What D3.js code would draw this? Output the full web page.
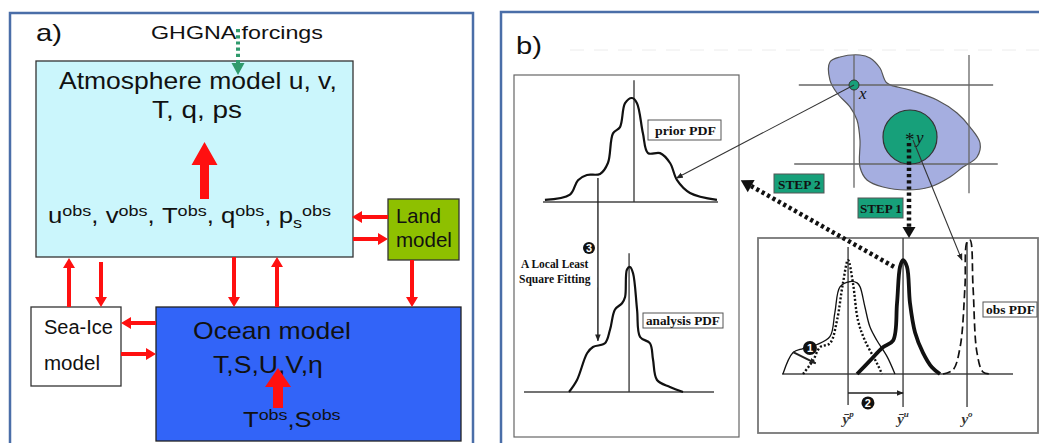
<!DOCTYPE html>
<html>
<head>
<meta charset="utf-8">
<script src="https://cdn.jsdelivr.net/npm/d3@7"></script>
<style>
  html, body { margin: 0; padding: 0; background: #fff; }
  svg { display: block; }
</style>
</head>
<body>
<svg id="fig" width="1039" height="443"></svg>
<script>
// ---------- content ----------
const panelLabels = ["a)", "b)"];
const forcingLabel = "GHGNA forcings";
const atmosphereTitle = ["Atmosphere model u, v,", "T, q, ps"];
// [base, subscript, superscript]
const atmosphereObs = [["u", "", "obs"], ["v", "", "obs"], ["T", "", "obs"], ["q", "", "obs"], ["p", "s", "obs"]];
const landLabel = ["Land", "model"];
const seaIceLabel = ["Sea-Ice", "model"];
const oceanTitle = ["Ocean model", "T,S,U,V,η"];
const oceanObs = [["T", "", "obs"], ["S", "", "obs"]];

// panel b: PDFs as [position 0..100, relative density]
const priorPDF = [[1.1,0.02],[15.4,0.07],[20,0.21],[25.1,0.26],[32.6,0.27],[37.1,0.375],[40,0.66],[44,0.72],[46.9,0.95],[50.9,1.0],[53.7,0.95],[57.1,0.66],[60,0.47],[66.9,0.47],[72.6,0.375],[76.6,0.21],[84,0.087],[99.4,0.02]];
const analysisPDF = [[23.7,0],[27.9,0.096],[33.2,0.31],[36.3,0.36],[42.6,0.39],[45.3,0.5],[47.9,0.66],[51.6,0.71],[53.2,0.76],[54.2,0.98],[55.8,1.0],[57.4,0.95],[59.5,0.66],[61.1,0.44],[66.3,0.39],[67.9,0.26],[70,0.096],[76.8,0.04],[83.7,0]];
const priorObsSpace = [[0.4,0],[4.8,0.16],[9.1,0.19],[15.2,0.22],[20.8,0.28],[22.9,0.46],[25.1,0.65],[29.4,0.69],[32.5,0.68],[33.8,0.65],[35.9,0.5],[38.1,0.35],[41.1,0.25],[45.5,0.13],[48.9,0]];
const priorFitted = [[9.1,0],[13.4,0.10],[16.5,0.2],[20.8,0.23],[23.8,0.4],[26.4,0.68],[28.6,0.85],[30.7,0.68],[32.9,0.4],[35.9,0.25],[41.1,0.08],[43.3,0]];
const updatedPDF = [[32.5,0],[38.1,0.1],[43.7,0.2],[48.1,0.25],[49.8,0.53],[51.1,0.8],[52.4,0.85],[54.1,0.8],[55.4,0.53],[57.6,0.31],[61,0.16],[64.9,0.05],[68.4,0]];
const obsPDF = [[69.7,0],[74,0.03],[77.1,0.2],[79.2,0.65],[80.1,0.985],[81.4,1.0],[82.7,0.65],[84.4,0.16],[87,0.015],[90,0]];
const priorMean = 52, analysisMean = 55.3;
const obsMeans = [28.6, 52.4, 80.1];
const obsMeanLabels = [["ȳ", "p"], ["ȳ", "u"], ["y", "o"]];
const pdfLabels = ["prior PDF", "analysis PDF", "obs PDF"];
const stepLabels = ["STEP 1", "STEP 2"];
const fitLabel = ["A Local Least", "Square Fitting"];
const badges = ["1", "2", "3"];

// model domain outline in grid units (grid cell = [0,1] x [0,1])
const domainOutline = [[-0.209,-0.291],[-0.122,-0.354],[0.052,-0.38],[0.139,-0.342],[0.226,-0.215],[0.287,-0.025],[0.487,0.063],[0.722,0.19],[0.896,0.354],[1.009,0.532],[1.096,0.734],[1.07,0.911],[0.948,1.038],[0.835,1.165],[0.661,1.291],[0.461,1.329],[0.252,1.291],[0.113,1.203],[0.052,1.038],[0.052,0.696],[0.026,0.443],[-0.035,0.278],[-0.148,0.101],[-0.209,-0.063]];
const gridPoint = [0, 0];
const obsPoint = [0.487, 0.658];

// ---------- drawing ----------
const svg = d3.select("#fig");
const SANS = "'Liberation Sans', Arial, sans-serif";
const SERIF = "'Liberation Serif', 'Times New Roman', serif";
const RED = "#ff1010";
const TEAL = "#17a07a";

// stretch a text element horizontally to a given width, anchored at its left edge
function fitWidth(sel, width) {
  sel.each(function () {
    const b = this.getBBox();
    const k = width / b.width;
    d3.select(this).attr("transform", `translate(${b.x},0) scale(${k},1) translate(${-b.x},0)`);
  });
  return sel;
}
function label(g, str, x, y, size, width, opts = {}) {
  const t = g.append("text").attr("x", x).attr("y", y)
    .attr("font-family", opts.family || SANS).attr("font-size", size)
    .attr("font-weight", opts.weight || "normal")
    .attr("font-style", opts.style || "normal")
    .attr("fill", opts.fill || "#111").text(str);
  if (width) fitWidth(t, width);
  return t;
}
function obsText(g, items, x, y, size, width, sep) {
  const t = g.append("text").attr("x", x).attr("y", y)
    .attr("font-family", SANS).attr("font-size", size).attr("fill", "#111");
  const small = size * 0.7;
  const up = size * 0.33;
  items.forEach((it, i) => {
    t.append("tspan").attr("dy", 0).text(it[0]);
    let shift = 0;
    if (it[1]) { t.append("tspan").attr("font-size", small).attr("dy", size * 0.25).text(it[1]); shift += size * 0.25; }
    t.append("tspan").attr("font-size", small).attr("dy", -up - shift).text(it[2]);
    t.append("tspan").attr("dy", up).text(i < items.length - 1 ? sep : "");
  });
  fitWidth(t, width);
  return t;
}
// solid red arrow: shaft + triangular head
function redArrow(g, x1, y1, x2, y2, shaft, headLen, headHalf) {
  const dx = x2 - x1, dy = y2 - y1, L = Math.hypot(dx, dy);
  const ux = dx / L, uy = dy / L, nx = -uy, ny = ux;
  const bx = x2 - ux * headLen, by = y2 - uy * headLen;
  const s = shaft / 2;
  const pts = [
    [x1 + nx * s, y1 + ny * s], [bx + nx * s, by + ny * s], [bx + nx * headHalf, by + ny * headHalf],
    [x2, y2], [bx - nx * headHalf, by - ny * headHalf], [bx - nx * s, by - ny * s], [x1 - nx * s, y1 - ny * s]
  ];
  g.append("path").attr("d", d3.line()(pts) + "Z").attr("fill", RED);
}
// thick dotted arrow
function dottedArrow(g, x1, y1, x2, y2, color, width, headLen, headHalf) {
  const dx = x2 - x1, dy = y2 - y1, L = Math.hypot(dx, dy);
  const ux = dx / L, uy = dy / L, nx = -uy, ny = ux;
  const bx = x2 - ux * headLen, by = y2 - uy * headLen;
  g.append("line").attr("x1", x1).attr("y1", y1).attr("x2", bx).attr("y2", by)
    .attr("stroke", color).attr("stroke-width", width).attr("stroke-dasharray", "3.2,3");
  g.append("path").attr("d", d3.line()([[bx + nx * headHalf, by + ny * headHalf], [x2, y2], [bx - nx * headHalf, by - ny * headHalf]]) + "Z")
    .attr("fill", color);
}

// ===== panel a =====
const A = svg.append("g");
A.append("rect").attr("x", 10).attr("y", 13).attr("width", 463).attr("height", 450)
  .attr("fill", "#fff").attr("stroke", "#4a6ea8").attr("stroke-width", 2.5);

label(A, panelLabels[0], 36, 41, 23, 26);
label(A, forcingLabel, 151, 39, 18.5, 172);

// atmosphere box
A.append("rect").attr("x", 36).attr("y", 61).attr("width", 317).attr("height", 196)
  .attr("fill", "#cbf6fc").attr("stroke", "#333").attr("stroke-width", 1.3);
label(A, atmosphereTitle[0], 59, 89, 23, 278);
label(A, atmosphereTitle[1], 152, 118, 23, 90);
obsText(A, atmosphereObs, 48, 223, 22, 283, ", ");

// forcing arrow (green, dotted)
dottedArrow(A, 238, 29, 238, 75, "#2f9a6c", 4, 12, 6.5);

// land box
A.append("rect").attr("x", 388).attr("y", 199).attr("width", 71).attr("height", 61)
  .attr("fill", "#8ec000").attr("stroke", "#333").attr("stroke-width", 1.3);
label(A, landLabel[0], 396, 223, 20, 45);
label(A, landLabel[1], 396, 247, 20, 56);

// sea-ice box
A.append("rect").attr("x", 31).attr("y", 307).attr("width", 90).attr("height", 79)
  .attr("fill", "#fff").attr("stroke", "#333").attr("stroke-width", 1.3);
label(A, seaIceLabel[0], 44, 334, 20, 69);
label(A, seaIceLabel[1], 44, 370, 20, 56);

// ocean box
A.append("rect").attr("x", 156).attr("y", 307).attr("width", 305).attr("height", 134)
  .attr("fill", "#3264f8").attr("stroke", "#222").attr("stroke-width", 1.3);
label(A, oceanTitle[0], 193, 339, 23, 158);
label(A, oceanTitle[1], 213, 373, 23, 110);
obsText(A, oceanObs, 243, 427, 22, 98, ",");

// assimilation arrows
redArrow(A, 204.5, 199, 204.5, 142, 9, 23, 13);
redArrow(A, 278, 408, 278, 368, 10, 19, 13);

// coupling arrows
const cpl = [
  [388, 217, 352, 217], [353, 239, 388, 239],
  [69, 307, 69, 258], [101, 262, 101, 307],
  [234, 257, 234, 307], [277, 307, 277, 257],
  [412, 260, 412, 307],
  [156, 323, 121, 323], [121, 354, 156, 354]
];
cpl.forEach(c => redArrow(A, c[0], c[1], c[2], c[3], 4, 10, 6));

// ===== panel b =====
const B = svg.append("g");
B.append("rect").attr("x", 501).attr("y", 12).attr("width", 560).attr("height", 450)
  .attr("fill", "#fff").attr("stroke", "#4a6ea8").attr("stroke-width", 2.5);
B.append("line").attr("x1", 570).attr("x2", 1039).attr("y1", 50).attr("y2", 50)
  .attr("stroke", "#ececec").attr("stroke-width", 1).attr("stroke-dasharray", "14,10");
label(B, panelLabels[1], 516, 54, 24, 26);

const defs = svg.append("defs");
defs.append("marker").attr("id", "tip").attr("viewBox", "0 0 10 10").attr("refX", 9).attr("refY", 5)
  .attr("markerWidth", 7).attr("markerHeight", 7).attr("orient", "auto-start-reverse")
  .attr("markerUnits", "userSpaceOnUse")
  .append("path").attr("d", "M0,1 L10,5 L0,9 Z").attr("fill", "#222");

// frames
B.append("rect").attr("x", 514).attr("y", 75).attr("width", 225).attr("height", 362)
  .attr("fill", "none").attr("stroke", "#666").attr("stroke-width", 1.2);
B.append("rect").attr("x", 758).attr("y", 238).attr("width", 280).attr("height", 195)
  .attr("fill", "none").attr("stroke", "#777").attr("stroke-width", 1.8);

// scales for each small plot
const px = d3.scaleLinear().domain([0, 100]).range([543, 718]);
const py = d3.scaleLinear().domain([0, 1]).range([202, 98]);
const ax = d3.scaleLinear().domain([0, 100]).range([524, 714]);
const ay = d3.scaleLinear().domain([0, 1]).range([392, 267]);
const ox = d3.scaleLinear().domain([0, 100]).range([782, 1013]);
const oy = d3.scaleLinear().domain([0, 1]).range([374, 240]);
const gx = d3.scaleLinear().domain([0, 1]).range([854, 969]);
const gy = d3.scaleLinear().domain([0, 1]).range([85, 164]);

const curve = d3.curveCatmullRom.alpha(0.5);
function pdf(g, data, sx, sy, width, dash) {
  g.append("path").datum(data)
    .attr("d", d3.line().x(d => sx(d[0])).y(d => sy(d[1])).curve(curve))
    .attr("fill", "none").attr("stroke", "#111").attr("stroke-width", width)
    .attr("stroke-dasharray", dash || null).attr("stroke-linejoin", "round");
}
function vline(g, sx, sy, u, d0, d1, w) {
  g.append("line").attr("x1", sx(u)).attr("x2", sx(u)).attr("y1", sy(d0)).attr("y2", sy(d1))
    .attr("stroke", "#333").attr("stroke-width", w || 1.3);
}
const SERIF_B = { family: SERIF, weight: "bold" };

// prior PDF plot
B.append("line").attr("x1", px(0)).attr("x2", px(100)).attr("y1", py(0)).attr("y2", py(0)).attr("stroke", "#444").attr("stroke-width", 1.4);
vline(B, px, py, priorMean, 0, 1.17);
pdf(B, priorPDF, px, py, 2.2);
B.append("rect").attr("x", 648).attr("y", 120).attr("width", 73).attr("height", 20).attr("fill", "#fff").attr("stroke", "#555");
label(B, pdfLabels[0], 655, 135, 13.5, 61, SERIF_B);

// analysis PDF plot
B.append("line").attr("x1", ax(0)).attr("x2", ax(100)).attr("y1", ay(0)).attr("y2", ay(0)).attr("stroke", "#444").attr("stroke-width", 1.4);
vline(B, ax, ay, analysisMean, 0, 1.11);
pdf(B, analysisPDF, ax, ay, 2.2);
B.append("rect").attr("x", 643).attr("y", 313).attr("width", 80).attr("height", 15).attr("fill", "#fff").attr("stroke", "#555");
label(B, pdfLabels[1], 646, 325.5, 13.5, 74, SERIF_B);

// step 3: least-squares mapping of the prior sample to the analysis
B.append("line").attr("x1", px(31.4)).attr("y1", py(0.23)).attr("x2", ax(38.9)).attr("y2", ay(0.41))
  .attr("stroke", "#222").attr("stroke-width", 1.4).attr("marker-end", "url(#tip)");
label(B, fitLabel[0], 521, 268, 13, 68, SERIF_B);
label(B, fitLabel[1], 519, 283, 13, 72, SERIF_B);

// model domain, grid and points
B.append("path").datum(domainOutline)
  .attr("d", d3.line().x(d => gx(d[0])).y(d => gy(d[1])).curve(d3.curveCatmullRomClosed.alpha(0.5)))
  .attr("fill", "#a5aee0").attr("stroke", "#555").attr("stroke-width", 1.2);
[[0, -0.48, 1.21], [1, -0.52, 1.25]].forEach(r =>
  B.append("line").attr("x1", gx(r[1])).attr("x2", gx(r[2])).attr("y1", gy(r[0])).attr("y2", gy(r[0])).attr("stroke", "#666").attr("stroke-width", 1.3));
[[0, -0.38, 1.30], [1, -0.38, 1.37]].forEach(r =>
  B.append("line").attr("x1", gx(r[0])).attr("x2", gx(r[0])).attr("y1", gy(r[1])).attr("y2", gy(r[2])).attr("stroke", "#666").attr("stroke-width", 1.3));
B.append("circle").attr("cx", gx(obsPoint[0])).attr("cy", gy(obsPoint[1])).attr("r", 27)
  .attr("fill", TEAL).attr("stroke", "#333").attr("stroke-width", 1.2);
B.append("circle").attr("cx", gx(gridPoint[0])).attr("cy", gy(gridPoint[1])).attr("r", 5)
  .attr("fill", TEAL).attr("stroke", "#333").attr("stroke-width", 1);
label(B, "x", 859, 99, 17, null, { family: SERIF, style: "italic" });
label(B, "*", gx(obsPoint[0]) - 5, gy(obsPoint[1]) + 9, 19, null, { family: SERIF });
label(B, "y", 916, 143, 17, null, { family: SERIF, style: "italic" });

// pointers from the map to the PDFs
B.append("line").attr("x1", gx(gridPoint[0])).attr("y1", gy(gridPoint[1]))
  .attr("x2", px(76.3)).attr("y2", py(0.23))
  .attr("stroke", "#333").attr("stroke-width", 1.1).attr("marker-end", "url(#tip)");
B.append("line").attr("x1", gx(obsPoint[0]) + 3).attr("y1", gy(obsPoint[1]) + 3)
  .attr("x2", ox(77.9)).attr("y2", oy(0.85))
  .attr("stroke", "#333").attr("stroke-width", 1.1).attr("marker-end", "url(#tip)");

// step 1 and step 2 arrows
dottedArrow(B, gx(obsPoint[0]) - 1, gy(obsPoint[1]) + 6, gx(obsPoint[0]) - 1, oy(1.015), "#111", 4.5, 11, 6.5);
dottedArrow(B, ox(48.5), oy(0.8), px(113), py(0.21), "#111", 4.5, 12, 7);
B.append("rect").attr("x", 858).attr("y", 198).attr("width", 45).attr("height", 20).attr("fill", TEAL).attr("stroke", "#555");
label(B, stepLabels[0], 860, 213.5, 13.5, 42, SERIF_B);
B.append("rect").attr("x", 774).attr("y", 174).attr("width", 50).attr("height", 19).attr("fill", TEAL).attr("stroke", "#555");
label(B, stepLabels[1], 778, 189, 13.5, 43, SERIF_B);

// observation-space plot
B.append("line").attr("x1", ox(0)).attr("x2", ox(100)).attr("y1", oy(0)).attr("y2", oy(0)).attr("stroke", "#444").attr("stroke-width", 1.4);
vline(B, ox, oy, obsMeans[0], -0.231, 0.948);
vline(B, ox, oy, obsMeans[1], -0.246, 1.015);
vline(B, ox, oy, obsMeans[2], -0.246, 0.985);
pdf(B, priorObsSpace, ox, oy, 1.3);
pdf(B, priorFitted, ox, oy, 2.4, "2,2");
pdf(B, updatedPDF, ox, oy, 3.8);
pdf(B, obsPDF, ox, oy, 1.7, "8,4");
B.append("rect").attr("x", 983).attr("y", 302).attr("width", 54).attr("height", 15).attr("fill", "#fff").attr("stroke", "#555");
label(B, pdfLabels[2], 986, 314.5, 13.5, 49, SERIF_B);

// step 2 shift of the mean
B.append("line").attr("x1", ox(obsMeans[0])).attr("x2", ox(obsMeans[1])).attr("y1", oy(-0.142)).attr("y2", oy(-0.142))
  .attr("stroke", "#222").attr("stroke-width", 1.6).attr("marker-end", "url(#tip)");
// step 1 shift of the sample
B.append("line").attr("x1", ox(4.8)).attr("y1", oy(0.164)).attr("x2", ox(14.6)).attr("y2", oy(0.08))
  .attr("stroke", "#222").attr("stroke-width", 2).attr("marker-end", "url(#tip)");

// mean labels
obsMeanLabels.forEach((l, i) => {
  const t = B.append("text").attr("x", ox(obsMeans[i])).attr("y", oy(-0.37)).attr("text-anchor", "middle")
    .attr("font-family", SERIF).attr("font-style", "italic").attr("font-weight", "bold").attr("font-size", 15).attr("fill", "#333");
  t.append("tspan").text(l[0]);
  t.append("tspan").attr("font-size", 9).attr("dy", -7).text(l[1]);
});

// numbered badges
const badgePos = [[ox(12.1), oy(0.194)], [ox(37.2), oy(-0.216)], [ax(34.2), ay(1.152)]];
const badgeR = [7, 6.5, 6];
badges.forEach((b, i) => {
  B.append("circle").attr("cx", badgePos[i][0]).attr("cy", badgePos[i][1]).attr("r", badgeR[i]).attr("fill", "#111");
  B.append("text").attr("x", badgePos[i][0]).attr("y", badgePos[i][1] + 4).attr("text-anchor", "middle")
    .attr("font-family", SANS).attr("font-weight", "bold").attr("font-size", 11).attr("fill", "#fff").text(b);
});
</script>
</body>
</html>
